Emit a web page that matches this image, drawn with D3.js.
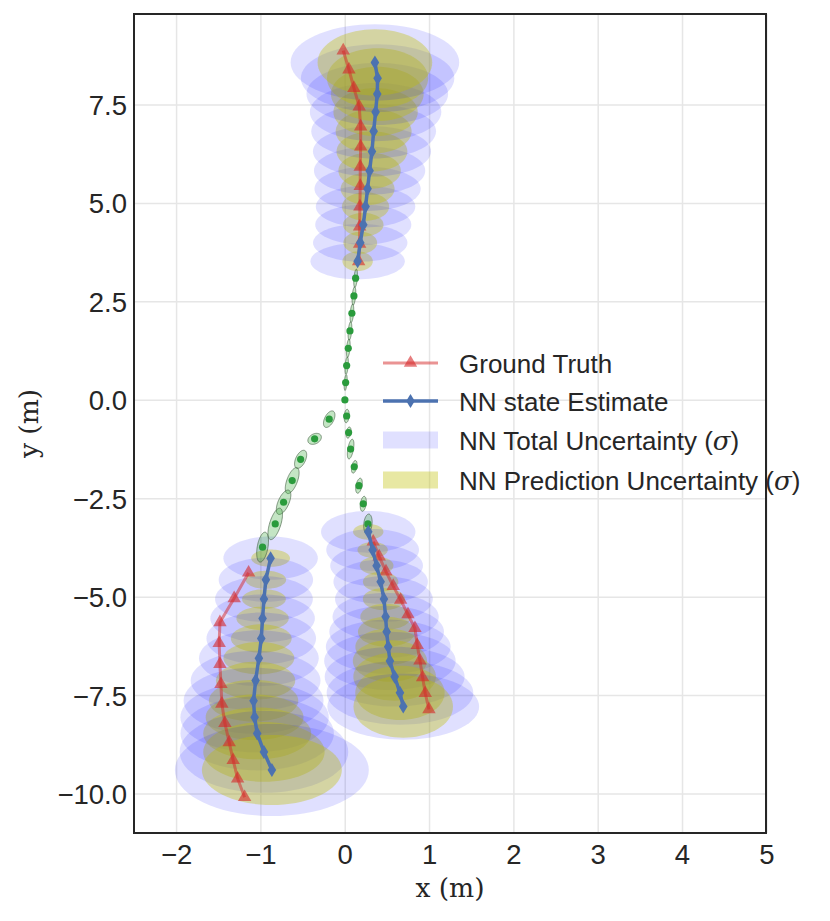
<html>
<head>
<meta charset="utf-8">
<script src="https://cdn.jsdelivr.net/npm/d3@7"></script>
<style>
  body { margin: 0; background: #ffffff; }
  text { font-family: "Liberation Sans", Arial, sans-serif; fill: #262626; }
</style>
</head>
<body>
<div id="chart"></div>
<script>
// ---- data (metres) ----
const xTicks = [-2, -1, 0, 1, 2, 3, 4, 5];
const yTicks = [-10, -7.5, -5, -2.5, 0, 2.5, 5, 7.5];

// upper trajectory
const upGtX = [0.159, 0.171, 0.171, 0.174, 0.178, 0.178, 0.183, 0.183, 0.166, 0.103, 0.044, -0.024];
const upGtY = [3.53, 3.97, 4.41, 4.92, 5.44, 5.93, 6.44, 6.95, 7.46, 7.93, 8.40, 8.88];
const upEstX = [0.147, 0.178, 0.214, 0.241, 0.265, 0.289, 0.317, 0.337, 0.360, 0.380, 0.384, 0.352];
const upEstY = [3.53, 4.00, 4.46, 4.92, 5.37, 5.83, 6.32, 6.83, 7.32, 7.78, 8.18, 8.58];
const upTotSx = [0.56, 0.56, 0.57, 0.59, 0.63, 0.66, 0.70, 0.74, 0.78, 0.84, 0.91, 1.00];
const upTotSy = [0.46, 0.48, 0.51, 0.53, 0.56, 0.61, 0.64, 0.69, 0.74, 0.79, 0.86, 0.97];
const upPredSx = [0.18, 0.20, 0.24, 0.28, 0.32, 0.37, 0.42, 0.45, 0.50, 0.55, 0.60, 0.68];
const upPredSy = [0.25, 0.28, 0.30, 0.36, 0.41, 0.46, 0.51, 0.56, 0.61, 0.69, 0.76, 0.84];

// lower-left trajectory
const llGtX = [-1.146, -1.317, -1.486, -1.495, -1.486, -1.474, -1.463, -1.427, -1.376, -1.329, -1.276, -1.193];
const llGtY = [-4.38, -5.03, -5.64, -6.17, -6.70, -7.21, -7.71, -8.20, -8.69, -9.14, -9.61, -10.08];
const llEstX = [-0.885, -0.941, -0.964, -0.980, -0.996, -1.024, -1.063, -1.087, -1.075, -1.044, -0.964, -0.870];
const llEstY = [-4.01, -4.56, -5.05, -5.54, -6.05, -6.55, -7.12, -7.63, -8.05, -8.46, -8.93, -9.39];
const llTotSx = [0.56, 0.56, 0.58, 0.62, 0.65, 0.71, 0.77, 0.83, 0.88, 0.91, 1.00, 1.15];
const llTotSy = [0.55, 0.56, 0.58, 0.61, 0.66, 0.71, 0.76, 0.84, 0.89, 0.94, 1.04, 1.17];
const llPredSx = [0.23, 0.24, 0.26, 0.31, 0.36, 0.42, 0.47, 0.53, 0.58, 0.64, 0.72, 0.83];
const llPredSy = [0.22, 0.23, 0.25, 0.30, 0.36, 0.41, 0.48, 0.53, 0.58, 0.66, 0.76, 0.89];

// lower-right trajectory
const lrGtX = [0.332, 0.403, 0.483, 0.569, 0.657, 0.744, 0.827, 0.854, 0.886, 0.918, 0.949, 0.993];
const lrGtY = [-3.59, -3.97, -4.35, -4.72, -5.07, -5.44, -5.79, -6.22, -6.61, -7.04, -7.44, -7.85];
const lrEstX = [0.273, 0.325, 0.372, 0.420, 0.459, 0.479, 0.491, 0.510, 0.530, 0.586, 0.649, 0.688];
const lrEstY = [-3.34, -3.80, -4.20, -4.61, -5.05, -5.50, -5.88, -6.26, -6.62, -7.02, -7.43, -7.78];
const lrTotSx = [0.56, 0.55, 0.55, 0.56, 0.58, 0.63, 0.68, 0.74, 0.78, 0.83, 0.87, 0.90];
const lrTotSy = [0.53, 0.53, 0.53, 0.56, 0.58, 0.61, 0.66, 0.69, 0.74, 0.76, 0.81, 0.84];
const lrPredSx = [0.18, 0.18, 0.20, 0.21, 0.25, 0.30, 0.34, 0.39, 0.44, 0.49, 0.53, 0.59];
const lrPredSy = [0.20, 0.20, 0.23, 0.25, 0.28, 0.33, 0.38, 0.46, 0.53, 0.61, 0.69, 0.79];

// observed history (green) with 1-sigma covariance
const obsX = [0.123, 0.103, 0.079, 0.056, 0.036, 0.017, 0.005, -0.004,
              0.017, 0.040, 0.064, 0.107, 0.163, 0.214, 0.269,
              -0.190, -0.363, -0.529, -0.629, -0.731, -0.830, -0.980];
const obsY = [3.10, 2.65, 2.21, 1.76, 1.32, 0.88, 0.45, 0.01,
              -0.40, -0.82, -1.24, -1.69, -2.17, -2.63, -3.14,
              -0.48, -0.98, -1.50, -2.04, -2.59, -3.14, -3.73];
const obsSx = [0.022, 0.022, 0.022, 0.022, 0.022, 0.020, 0.018, 0.010,
               0.030, 0.030, 0.039, 0.033, 0.039, 0.036, 0.050,
               0.068, 0.080, 0.072, 0.082, 0.086, 0.086, 0.070];
const obsSy = [0.23, 0.23, 0.23, 0.23, 0.23, 0.22, 0.20, 0.03,
               0.17, 0.14, 0.25, 0.16, 0.19, 0.19, 0.25,
               0.21, 0.14, 0.23, 0.33, 0.31, 0.40, 0.38];
const obsRho = [0.4, 0.4, 0.4, 0.4, 0.4, 0.4, 0.4, 0.0,
                0.2, 0.3, 0.5, 0.4, 0.4, 0.3, 0.2,
                0.5, 0.3, 0.5, 0.6, 0.6, 0.6, 0.4];

const legendLabels = ["Ground Truth", "NN state Estimate", "NN Total Uncertainty", "NN Prediction Uncertainty"];

// ---- layout ----
const W = 830, H = 921;
const plot = { left: 134, right: 766, top: 14, bottom: 833 };

const x = d3.scaleLinear().domain([-2.505, 4.99]).range([plot.left, plot.right]);
const y = d3.scaleLinear().domain([-10.99, 9.81]).range([plot.bottom, plot.top]);

const svg = d3.select("#chart").append("svg")
  .attr("width", W).attr("height", H);

const minus = s => s.replace("-", "\u2212");

// grid
svg.append("g").selectAll("line").data(xTicks).join("line")
  .attr("x1", d => x(d)).attr("x2", d => x(d))
  .attr("y1", plot.top).attr("y2", plot.bottom)
  .attr("stroke", "#e6e6e6").attr("stroke-width", 1.5);
svg.append("g").selectAll("line").data(yTicks).join("line")
  .attr("y1", d => y(d)).attr("y2", d => y(d))
  .attr("x1", plot.left).attr("x2", plot.right)
  .attr("stroke", "#e6e6e6").attr("stroke-width", 1.5);

// ellipse from sigma_x, sigma_y, correlation (drawn in data space)
const ellLine = d3.line().x(p => x(p[0])).y(p => y(p[1]));
function ellipse(cx, cy, sx, sy, rho) {
  const pts = d3.range(73).map(i => {
    const t = i / 72 * 2 * Math.PI;
    return [cx + sx * Math.cos(t),
            cy + rho * sy * Math.cos(t) + sy * Math.sqrt(1 - rho * rho) * Math.sin(t)];
  });
  return ellLine(pts) + "Z";
}

const groups = [
  { gx: upGtX, gy: upGtY, ex: upEstX, ey: upEstY, tsx: upTotSx, tsy: upTotSy, psx: upPredSx, psy: upPredSy },
  { gx: llGtX, gy: llGtY, ex: llEstX, ey: llEstY, tsx: llTotSx, tsy: llTotSy, psx: llPredSx, psy: llPredSy },
  { gx: lrGtX, gy: lrGtY, ex: lrEstX, ey: lrEstY, tsx: lrTotSx, tsy: lrTotSy, psx: lrPredSx, psy: lrPredSy }
];

const ellG = svg.append("g");
groups.forEach(g => {
  g.ex.forEach((_, i) => {
    ellG.append("path")
      .attr("d", ellipse(g.ex[i], g.ey[i], g.tsx[i], g.tsy[i], 0))
      .attr("fill", "#0000ff").attr("fill-opacity", 0.12);
    ellG.append("path")
      .attr("d", ellipse(g.ex[i], g.ey[i], g.psx[i], g.psy[i], 0))
      .attr("fill", "#bfbf00").attr("fill-opacity", 0.36);
  });
});

// observed history
const obsG = svg.append("g");
obsX.forEach((_, i) => {
  obsG.append("path")
    .attr("d", ellipse(obsX[i], obsY[i], obsSx[i], obsSy[i], obsRho[i]))
    .attr("fill", "#2ca02c").attr("fill-opacity", 0.28)
    .attr("stroke", "#3d5a3d").attr("stroke-opacity", 0.6).attr("stroke-width", 1);
});
obsG.selectAll("circle").data(obsX).join("circle")
  .attr("cx", (d, i) => x(obsX[i])).attr("cy", (d, i) => y(obsY[i]))
  .attr("r", 3.6).attr("fill", "#2a9b3c");

// trajectories
const tri = d3.symbol().type(d3.symbolTriangle).size(78);
const diamond = "M0,-7L4.3,0L0,7L-4.3,0Z";
const lineGen = d3.line().x(p => x(p[0])).y(p => y(p[1]));

groups.forEach(g => {
  const gt = g.gx.map((v, i) => [v, g.gy[i]]);
  const est = g.ex.map((v, i) => [v, g.ey[i]]);
  svg.append("path").attr("d", lineGen(gt))
    .attr("fill", "none").attr("stroke", "#d62728").attr("stroke-opacity", 0.5).attr("stroke-width", 3);
  svg.append("g").selectAll("path").data(gt).join("path")
    .attr("d", tri).attr("transform", d => `translate(${x(d[0])},${y(d[1])})`)
    .attr("fill", "#d62728").attr("fill-opacity", 0.6);
  svg.append("path").attr("d", lineGen(est))
    .attr("fill", "none").attr("stroke", "#4c72b0").attr("stroke-width", 3.5);
  svg.append("g").selectAll("path").data(est).join("path")
    .attr("d", diamond).attr("transform", d => `translate(${x(d[0])},${y(d[1])})`)
    .attr("fill", "#4c72b0");
});

// frame
svg.append("rect")
  .attr("x", plot.left).attr("y", plot.top)
  .attr("width", plot.right - plot.left).attr("height", plot.bottom - plot.top)
  .attr("fill", "none").attr("stroke", "#262626").attr("stroke-width", 2);

// tick labels
svg.append("g").selectAll("text").data(xTicks).join("text")
  .attr("x", d => x(d)).attr("y", 864)
  .attr("text-anchor", "middle").attr("font-size", 27.5)
  .text(d => minus(String(d)));
svg.append("g").selectAll("text").data(yTicks).join("text")
  .attr("x", 127).attr("y", d => y(d) + 10)
  .attr("text-anchor", "end").attr("font-size", 27.5)
  .text(d => minus(d.toFixed(1)));

// axis labels
svg.append("text")
  .attr("x", (plot.left + plot.right) / 2).attr("y", 897)
  .attr("text-anchor", "middle").attr("font-size", 26.5)
  .style("font-family", "'DejaVu Serif', serif")
  .text("x (m)");
svg.append("text")
  .attr("transform", `translate(38,${(plot.top + plot.bottom) / 2}) rotate(-90)`)
  .attr("text-anchor", "middle").attr("font-size", 26.5)
  .style("font-family", "'DejaVu Serif', serif")
  .text("y (m)");

// legend
const lg = svg.append("g");
const lx0 = 383, lx1 = 438, tx = 459, rowY = [363, 401, 440, 480];
lg.append("line").attr("x1", lx0).attr("x2", lx1).attr("y1", rowY[0]).attr("y2", rowY[0])
  .attr("stroke", "#d62728").attr("stroke-opacity", 0.5).attr("stroke-width", 3);
lg.append("path").attr("d", tri).attr("transform", `translate(${(lx0 + lx1) / 2},${rowY[0]})`)
  .attr("fill", "#d62728").attr("fill-opacity", 0.6);
lg.append("line").attr("x1", lx0).attr("x2", lx1).attr("y1", rowY[1]).attr("y2", rowY[1])
  .attr("stroke", "#4c72b0").attr("stroke-width", 3.5);
lg.append("path").attr("d", diamond).attr("transform", `translate(${(lx0 + lx1) / 2},${rowY[1]})`)
  .attr("fill", "#4c72b0");
lg.append("rect").attr("x", lx0).attr("y", rowY[2] - 8.5).attr("width", lx1 - lx0).attr("height", 17)
  .attr("fill", "#0000ff").attr("fill-opacity", 0.12);
lg.append("rect").attr("x", lx0).attr("y", rowY[3] - 8.5).attr("width", lx1 - lx0).attr("height", 17)
  .attr("fill", "#bfbf00").attr("fill-opacity", 0.36);

legendLabels.forEach((lab, i) => {
  const t = lg.append("text").attr("x", tx).attr("y", rowY[i] + 9.5).attr("font-size", 26).text(lab);
  if (i >= 2) {
    t.append("tspan").text(" (");
    t.append("tspan").attr("font-family", "'DejaVu Serif', serif").attr("font-style", "italic").text("\u03c3");
    t.append("tspan").text(")");
  }
});
</script>
</body>
</html>
